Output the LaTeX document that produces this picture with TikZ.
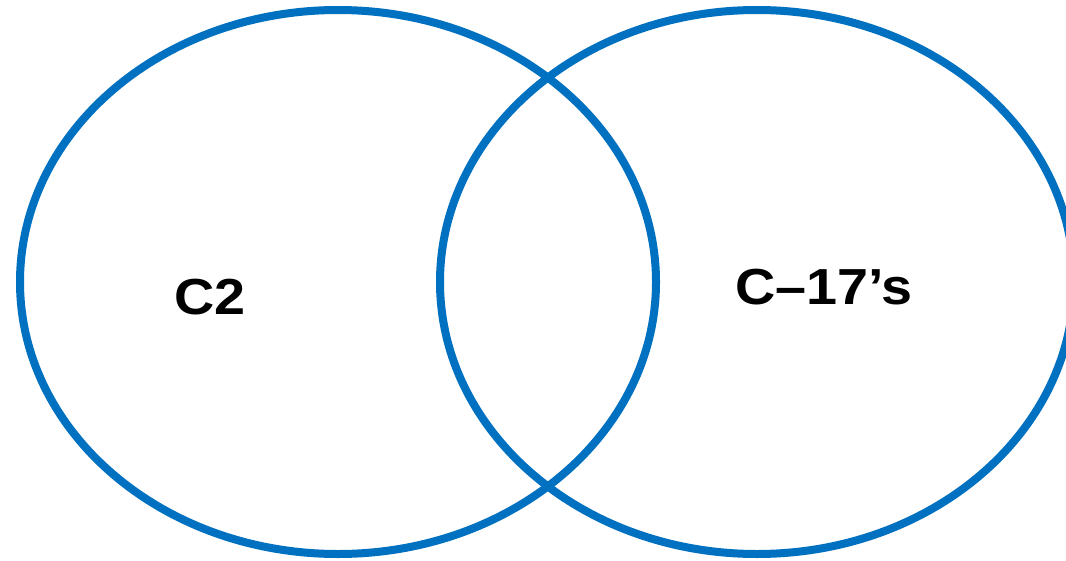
\documentclass[tikz,border=0pt]{standalone}
\usepackage{fontspec}
\setmainfont{Liberation Sans}
\definecolor{vennblue}{HTML}{0070C0}
\begin{document}
\begin{tikzpicture}[x=0.75pt,y=-0.75pt,
  vennring/.style={draw=vennblue,line width=6pt},
  vennlabel/.style={font=\fontsize{38}{44}\selectfont\bfseries,inner sep=0pt,text=black,xscale=1.1}]
\useasboundingbox (0,0) rectangle (1066,560);
\begin{scope}
\clip (0,0) rectangle (1066,560);
\draw[vennring] (338,282) ellipse [x radius=318, y radius=272];
\draw[vennring] (757,282) ellipse [x radius=317, y radius=272];
\end{scope}
\node[vennlabel] (c2) at (210,297) {C2};
\node[vennlabel] (c17) at (824,287) {C–17’s};
\end{tikzpicture}
\end{document}
